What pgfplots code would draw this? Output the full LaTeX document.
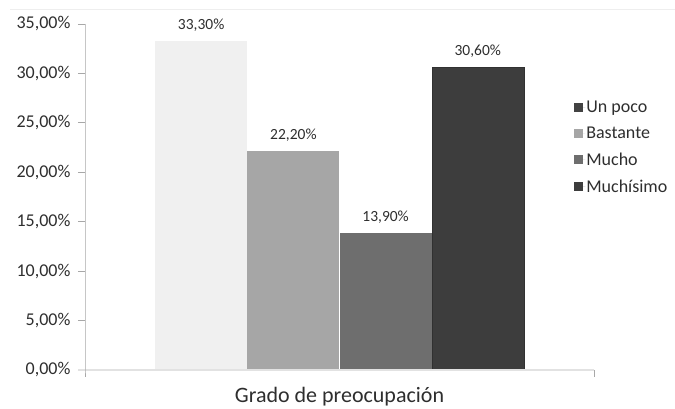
\documentclass[border=0pt]{standalone}
\usepackage{pgfplots}
\pgfplotsset{compat=1.18}
\usepackage{fontspec}
\setmainfont{Carlito}

\definecolor{barA}{HTML}{F0F0F0}
\definecolor{barB}{HTML}{A6A6A6}
\definecolor{barC}{HTML}{6E6E6E}
\definecolor{barD}{HTML}{3D3D3D}
\definecolor{keyA}{HTML}{424242}
\definecolor{axisgray}{HTML}{A8A8A8}
\definecolor{basegray}{HTML}{E2E2E2}
\definecolor{txt}{HTML}{2E2E2E}

\begin{document}
\begin{tikzpicture}
\begin{axis}[
  name=ax,
  at={(0,0)}, anchor=south west,
  scale only axis,
  width=509pt, height=346pt,
  xmin=-0.26, xmax=5.26,
  ymin=0, ymax=35,
  ybar, bar width=92.2pt, bar shift=0pt,
  /pgf/number format/assume math mode=true,
  axis line style={draw=none},
  xtick=\empty,
  ytick pos=left,
  ytick={0,5,10,15,20,25,30,35},
  yticklabels={{0,00\%},{5,00\%},{10,00\%},{15,00\%},{20,00\%},{25,00\%},{30,00\%},{35,00\%}},
  tick align=outside,
  major tick length=7pt,
  y tick style={axisgray, line width=0.8pt},
  yticklabel style={font=\fontsize{18pt}{20pt}\selectfont, text=txt, xshift=-4pt},
  xlabel={Grado de preocupación},
  xlabel style={font=\fontsize{22pt}{24pt}\selectfont, text=txt,
    at={(axis description cs:0.5,0)}, anchor=base, yshift=-33pt},
  nodes near coords={\pgfmathprintnumber[fixed,fixed zerofill,precision=2,use comma]{\pgfplotspointmeta}\%},
  every node near coord/.append style={font=\fontsize{15.5pt}{17pt}\selectfont, text=txt, anchor=south, yshift=6pt},
  legend style={draw=none, fill=none, at={(axis description cs:0.955,0.644)}, anchor=west,
    font=\fontsize{18pt}{20pt}\selectfont, text=txt, row sep=11pt,
    nodes={inner sep=1pt}},
  legend cell align=left,
  legend image code/.code={\path (0pt,0pt) -- (11pt,0pt);\fill[#1] (0pt,-4.5pt) rectangle (9pt,4.5pt);},
  clip=false,
]
\addplot[fill=barA, draw=none, forget plot] coordinates {(1,33.3)};
\addplot[fill=barB, draw=none, forget plot] coordinates {(2,22.2)};
\addplot[fill=barC, draw=none, forget plot] coordinates {(3,13.9)};
\addplot[fill=barD, draw=barD!80!black, line width=0.4pt, forget plot] coordinates {(4,30.6)};

\addlegendimage{fill=keyA, draw=none}
\addlegendentry{Un poco}
\addlegendimage{fill=barB, draw=none}
\addlegendentry{Bastante}
\addlegendimage{fill=barC, draw=none}
\addlegendentry{Mucho}
\addlegendimage{fill=barD, draw=none}
\addlegendentry{Muchísimo}
\end{axis}
% baseline, value axis and the closing tick of the category axis
\draw[basegray, line width=1.2pt] ([xshift=-7pt]ax.south west) -- (ax.south east);
\draw[axisgray, line width=0.8pt] (ax.north west) -- (ax.south west) -- ++(0,-7pt);
\draw[axisgray, line width=0.8pt] (ax.south east) -- ++(0,-7pt);
\pgfresetboundingbox
\path[use as bounding box] ([shift={(-85pt,-39pt)}]ax.south west) rectangle ([shift={(81pt,24pt)}]ax.north east);
\draw[basegray!60, line width=0.6pt] ([shift={(-75pt,15pt)}]ax.north west) -- ([shift={(81pt,15pt)}]ax.north east);
\end{tikzpicture}
\end{document}
